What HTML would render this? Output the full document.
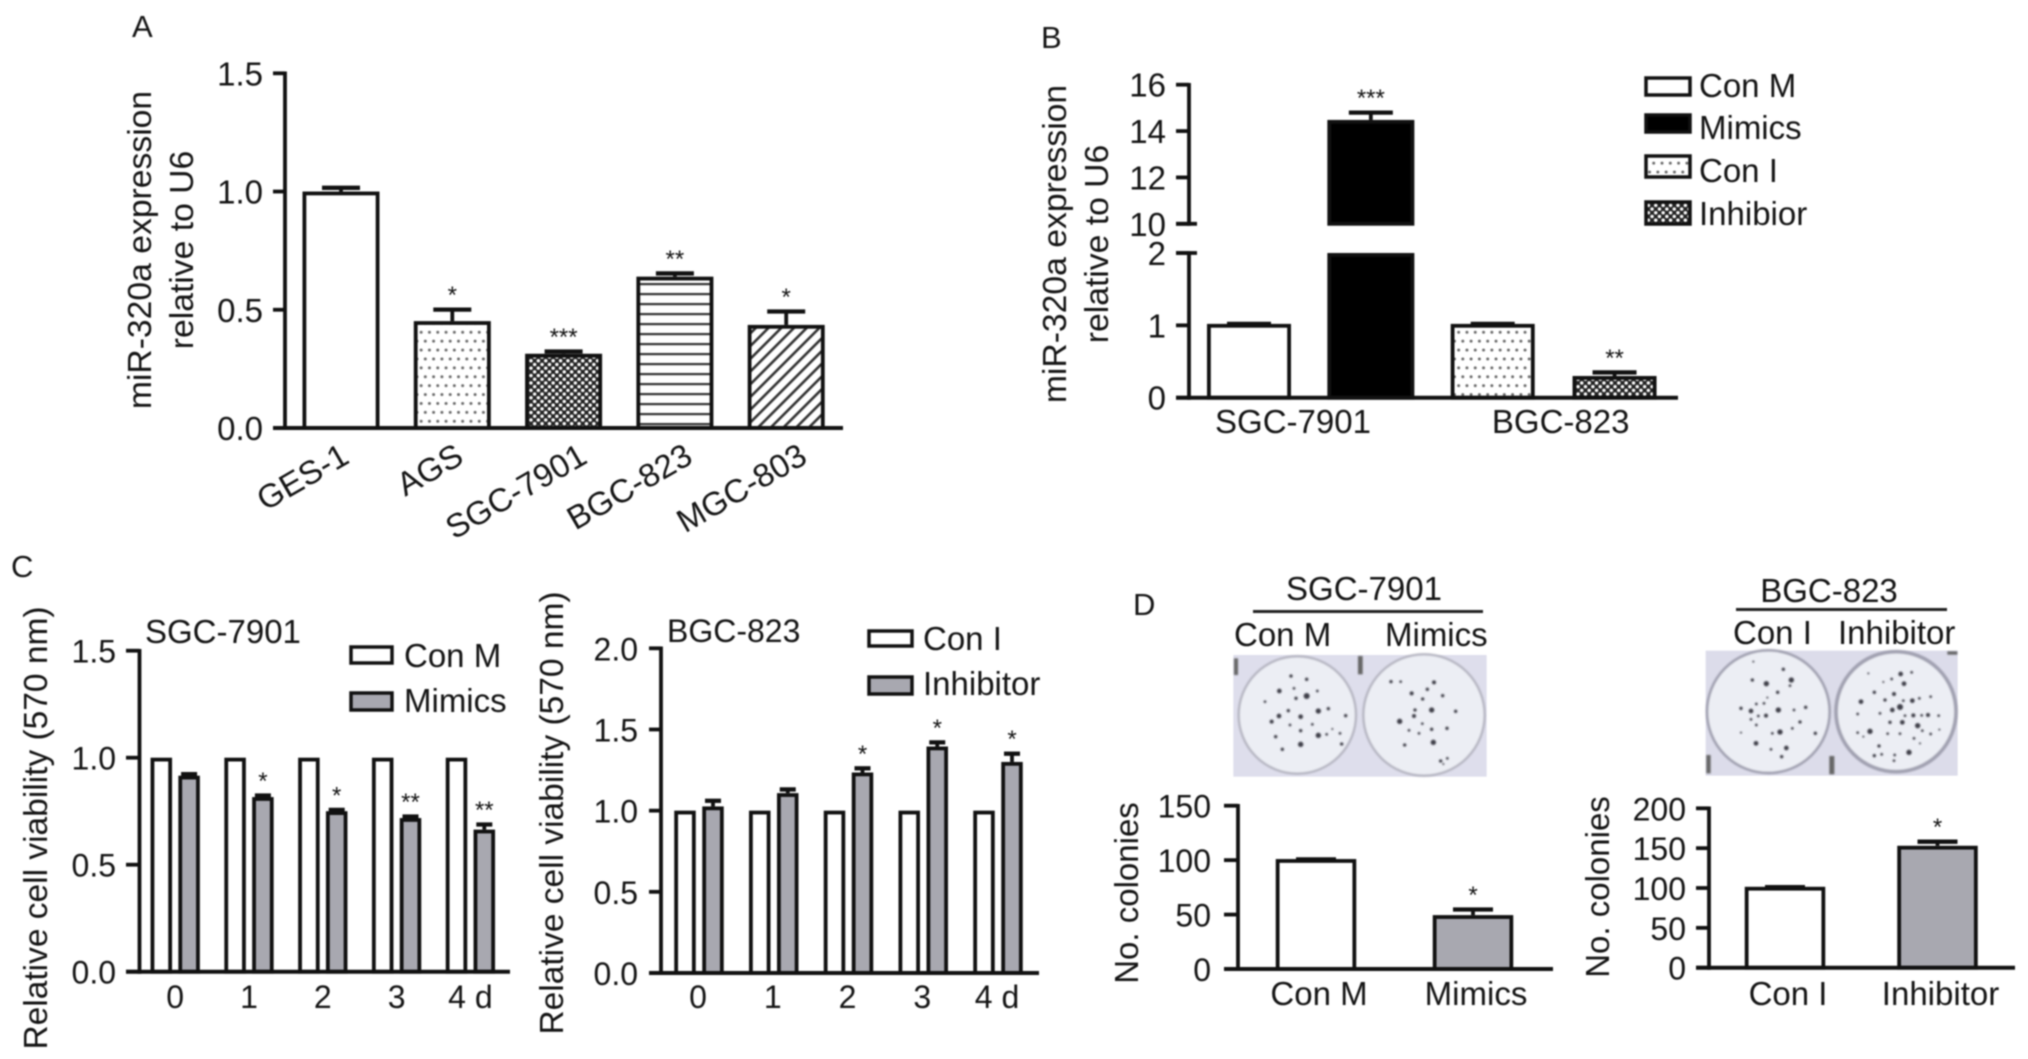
<!DOCTYPE html>
<html lang="en">
<head>
<meta charset="utf-8">
<title>miR-320a expression figure</title>
<style>
html,body{margin:0;padding:0;background:#fff;width:2028px;height:1059px;overflow:hidden}
svg{display:block;filter:blur(0.7px)}
text{font-family:"Liberation Sans",Arial,sans-serif;fill:#141414;font-size:33px}
</style>
</head>
<body>
<svg id="figure" xmlns="http://www.w3.org/2000/svg" width="2028" height="1059" viewBox="0 0 2028 1059">
<defs>
<pattern id="dots" width="8.3" height="17.8" patternUnits="userSpaceOnUse">
<circle cx="2" cy="3" r="1.5" fill="#6a6a6a"/><circle cx="6.15" cy="11.9" r="1.5" fill="#6a6a6a"/>
</pattern>
<pattern id="check" width="7.4" height="7.4" patternUnits="userSpaceOnUse">
<rect width="7.4" height="7.4" fill="#222"/>
<circle cx="1.85" cy="1.85" r="1.75" fill="#fff"/><circle cx="5.55" cy="5.55" r="1.75" fill="#fff"/>
</pattern>
<pattern id="stripes" width="10" height="10" patternUnits="userSpaceOnUse">
<rect y="3" width="10" height="2.2" fill="#333"/>
</pattern>
<pattern id="diag" width="9" height="9" patternUnits="userSpaceOnUse" patternTransform="rotate(45)">
<rect x="0" width="2.6" height="9" fill="#333"/>
</pattern>
<filter id="soft"><feGaussianBlur stdDeviation="2.2"/></filter>
</defs>
<rect width="2028" height="1059" fill="#fff"/>

<text x="132" y="37" style="font-size:31px">A</text>
<text x="1041" y="48" style="font-size:31px">B</text>
<text x="11" y="577" style="font-size:31px">C</text>
<text x="1133" y="615" style="font-size:31px">D</text>

<text transform="translate(151,250) rotate(-90)" text-anchor="middle" style="font-size:33.7px">miR-320a expression</text>
<text transform="translate(193,250) rotate(-90)" text-anchor="middle" style="font-size:33.7px">relative to U6</text>
<text transform="translate(1066,244) rotate(-90)" text-anchor="middle" style="font-size:33.7px">miR-320a expression</text>
<text transform="translate(1108,244) rotate(-90)" text-anchor="middle" style="font-size:33.7px">relative to U6</text>
<text transform="translate(47,828) rotate(-90)" text-anchor="middle" style="font-size:33.5px">Relative cell viability (570 nm)</text>
<text transform="translate(563,813) rotate(-90)" text-anchor="middle" style="font-size:33.5px">Relative cell viability (570 nm)</text>
<text transform="translate(1138,893) rotate(-90)" text-anchor="middle">No. colonies</text>
<text transform="translate(1609,887) rotate(-90)" text-anchor="middle">No. colonies</text>

<text x="145" y="643">SGC-7901</text>
<text x="667" y="642" style="font-size:32px">BGC-823</text>

<g>
<rect x="1646" y="78" width="44" height="17" fill="#fff" stroke="#111" stroke-width="3.5"/>
<text x="1699" y="97">Con M</text>
<rect x="1646" y="115" width="44" height="17" fill="#000" stroke="#111" stroke-width="3.5"/>
<text x="1699" y="139">Mimics</text>
<rect x="1646" y="156" width="44" height="21" fill="url(#dots)" stroke="#111" stroke-width="3.5"/>
<text x="1699" y="182">Con I</text>
<rect x="1646" y="202" width="44" height="22" fill="url(#check)" stroke="#111" stroke-width="3.5"/>
<text x="1699" y="225">Inhibior</text>
</g>

<g>
<rect x="351" y="647" width="41" height="16" fill="#fff" stroke="#111" stroke-width="3.5"/>
<text x="404" y="667">Con M</text>
<rect x="351" y="693" width="41" height="17" fill="#a8a8b0" stroke="#111" stroke-width="3.5"/>
<text x="404" y="712">Mimics</text>
</g>
<g>
<rect x="869" y="631" width="43" height="15" fill="#fff" stroke="#111" stroke-width="3.5"/>
<text x="923" y="650">Con I</text>
<rect x="869" y="677" width="43" height="17" fill="#a8a8b0" stroke="#111" stroke-width="3.5"/>
<text x="923" y="695">Inhibitor</text>
</g>

<text x="1364" y="600" text-anchor="middle">SGC-7901</text>
<rect x="1253" y="610" width="230" height="3" fill="#222"/>
<text x="1234" y="646">Con M</text>
<text x="1385" y="646">Mimics</text>
<text x="1829" y="602" text-anchor="middle">BGC-823</text>
<rect x="1736" y="608" width="211" height="3" fill="#222"/>
<text x="1733" y="644">Con I</text>
<text x="1838" y="644">Inhibitor</text>

<g transform="translate(1210,630) scale(0.33333)">
<rect x="70" y="75" width="760" height="365" fill="#dedeec"/>
<g filter="url(#soft)">
<circle cx="262" cy="255" r="176" fill="#eceef4" stroke="#b4b4c0" stroke-width="7"/>
<circle cx="642" cy="255" r="182" fill="#eceef4" stroke="#b4b4c0" stroke-width="7"/>
<rect x="72" y="85" width="12" height="50" fill="#666"/><rect x="444" y="78" width="14" height="55" fill="#666"/>
</g>
<g fill="#3c3c46" filter="url(#soft)">
<circle cx="243" cy="138" r="5"/><circle cx="290" cy="148" r="5"/><circle cx="208" cy="183" r="7"/><circle cx="290" cy="198" r="9"/><circle cx="252" cy="175" r="4"/><circle cx="322" cy="183" r="4"/><circle cx="165" cy="215" r="4"/><circle cx="235" cy="242" r="5"/><circle cx="207" cy="258" r="7"/><circle cx="185" cy="275" r="6"/><circle cx="272" cy="260" r="7"/><circle cx="325" cy="243" r="8"/><circle cx="355" cy="236" r="5"/><circle cx="407" cy="257" r="5"/><circle cx="240" cy="285" r="4"/><circle cx="272" cy="302" r="5"/><circle cx="307" cy="283" r="4"/><circle cx="197" cy="320" r="5"/><circle cx="325" cy="316" r="8"/><circle cx="350" cy="313" r="4"/><circle cx="367" cy="297" r="3"/><circle cx="390" cy="310" r="4"/><circle cx="272" cy="343" r="8"/><circle cx="217" cy="358" r="5"/><circle cx="395" cy="342" r="5"/><circle cx="258" cy="205" r="5"/>
<circle cx="543" cy="155" r="5"/><circle cx="572" cy="155" r="4"/><circle cx="672" cy="157" r="6"/><circle cx="652" cy="178" r="5"/><circle cx="605" cy="190" r="6"/><circle cx="698" cy="197" r="5"/><circle cx="638" cy="207" r="5"/><circle cx="665" cy="240" r="8"/><circle cx="615" cy="240" r="5"/><circle cx="612" cy="258" r="6"/><circle cx="737" cy="244" r="5"/><circle cx="569" cy="274" r="8"/><circle cx="637" cy="281" r="4"/><circle cx="665" cy="298" r="5"/><circle cx="711" cy="295" r="5"/><circle cx="597" cy="301" r="4"/><circle cx="627" cy="310" r="4"/><circle cx="670" cy="337" r="8"/><circle cx="584" cy="345" r="5"/><circle cx="712" cy="385" r="4"/><circle cx="692" cy="393" r="5"/><circle cx="700" cy="402" r="3"/>
</g>
</g>

<g transform="translate(1690,630) scale(0.33333)">
<rect x="47" y="62" width="756" height="375" fill="#dcdcea"/>
<g filter="url(#soft)">
<circle cx="235" cy="245" r="184" fill="#eceef4" stroke="#a0a0b0" stroke-width="8"/>
<circle cx="618" cy="245" r="180" fill="#eceef4" stroke="#a0a0b0" stroke-width="11"/>
<rect x="49" y="375" width="13" height="55" fill="#666"/><rect x="418" y="378" width="15" height="55" fill="#666"/><rect x="772" y="64" width="30" height="10" fill="#666"/>
</g>
<g fill="#3c3c46" filter="url(#soft)">
<circle cx="190" cy="95" r="3"/><circle cx="280" cy="118" r="5"/><circle cx="187" cy="150" r="5"/><circle cx="229" cy="161" r="8"/><circle cx="304" cy="150" r="8"/><circle cx="300" cy="167" r="4"/><circle cx="263" cy="187" r="5"/><circle cx="232" cy="203" r="3"/><circle cx="199" cy="222" r="4"/><circle cx="222" cy="220" r="4"/><circle cx="153" cy="235" r="5"/><circle cx="183" cy="243" r="7"/><circle cx="265" cy="240" r="8"/><circle cx="312" cy="240" r="4"/><circle cx="347" cy="232" r="5"/><circle cx="228" cy="257" r="6"/><circle cx="205" cy="258" r="4"/><circle cx="183" cy="268" r="4"/><circle cx="330" cy="276" r="5"/><circle cx="199" cy="285" r="4"/><circle cx="307" cy="295" r="4"/><circle cx="270" cy="306" r="8"/><circle cx="247" cy="310" r="4"/><circle cx="376" cy="310" r="5"/><circle cx="198" cy="340" r="7"/><circle cx="289" cy="354" r="7"/><circle cx="243" cy="358" r="4"/><circle cx="275" cy="380" r="5"/><circle cx="153" cy="308" r="3"/>
<circle cx="535" cy="130" r="3"/><circle cx="632" cy="132" r="7"/><circle cx="665" cy="127" r="4"/><circle cx="605" cy="147" r="4"/><circle cx="642" cy="161" r="7"/><circle cx="580" cy="156" r="3"/><circle cx="553" cy="187" r="5"/><circle cx="612" cy="192" r="6"/><circle cx="513" cy="215" r="7"/><circle cx="585" cy="210" r="5"/><circle cx="640" cy="212" r="4"/><circle cx="667" cy="212" r="7"/><circle cx="688" cy="205" r="4"/><circle cx="722" cy="200" r="4"/><circle cx="630" cy="231" r="9"/><circle cx="607" cy="240" r="7"/><circle cx="503" cy="252" r="4"/><circle cx="570" cy="250" r="4"/><circle cx="645" cy="257" r="4"/><circle cx="670" cy="256" r="6"/><circle cx="695" cy="256" r="4"/><circle cx="714" cy="255" r="6"/><circle cx="746" cy="257" r="4"/><circle cx="600" cy="277" r="5"/><circle cx="637" cy="277" r="7"/><circle cx="683" cy="287" r="8"/><circle cx="540" cy="304" r="8"/><circle cx="503" cy="308" r="4"/><circle cx="593" cy="311" r="4"/><circle cx="630" cy="311" r="4"/><circle cx="697" cy="302" r="4"/><circle cx="722" cy="312" r="4"/><circle cx="748" cy="299" r="3"/><circle cx="672" cy="325" r="4"/><circle cx="690" cy="340" r="3"/><circle cx="567" cy="348" r="5"/><circle cx="553" cy="377" r="5"/><circle cx="575" cy="373" r="4"/><circle cx="657" cy="367" r="8"/><circle cx="614" cy="375" r="4"/><circle cx="612" cy="392" r="4"/><circle cx="520" cy="320" r="3"/>
</g>
</g>

<g id="marks"></g>
</svg>

<script>
/* Panel A */
const aCategories = ['GES-1', 'AGS', 'SGC-7901', 'BGC-823', 'MGC-803'];
const aValues = [1.0, 0.452, 0.314, 0.64, 0.436];
const aErrors = [0.022, 0.055, 0.016, 0.02, 0.063];
const aStars = ['', '*', '***', '**', '*'];
const aFills = ['#fff', 'url(#dots)', 'url(#check)', 'url(#stripes)', 'url(#diag)'];
const aTicks = [0, 0.5, 1.0, 1.5];
const aTickLabels = ['0.0', '0.5', '1.0', '1.5'];

/* Panel B (broken axis) */
const bSeries = ['Con M', 'Mimics', 'Con I', 'Inhibior'];
const bValues = [1.02, 14.48, 1.02, 0.30];
const bErrors = [0.02, 0.38, 0.02, 0.07];
const bStars = ['', '***', '', '**'];
const bFills = ['#fff', '#000', 'url(#dots)', 'url(#check)'];
const bGroups = ['SGC-7901', 'BGC-823'];
const bLowerTicks = [0, 1, 2];
const bUpperTicks = [10, 12, 14, 16];

/* Panel C left */
const cDays = ['0', '1', '2', '3', '4 d'];
const cLeftControl = [1, 1, 1, 1, 1];
const cLeftMimics = [0.916, 0.816, 0.75, 0.718, 0.664];
const cLeftErrors = [0.014, 0.014, 0.013, 0.014, 0.031];
const cLeftStars = ['', '*', '*', '**', '**'];
const cLeftTicks = [0, 0.5, 1.0, 1.5];
const cLeftTickLabels = ['0.0', '0.5', '1.0', '1.5'];

/* Panel C right */
const cRightControl = [1, 1, 1, 1, 1];
const cRightInhibitor = [1.026, 1.108, 1.235, 1.395, 1.30];
const cRightErrors = [0.044, 0.032, 0.035, 0.035, 0.06];
const cRightStars = ['', '', '*', '*', '*'];
const cRightTicks = [0, 0.5, 1.0, 1.5, 2.0];
const cRightTickLabels = ['0.0', '0.5', '1.0', '1.5', '2.0'];

/* Panel D */
const dLeftCategories = ['Con M', 'Mimics'];
const dLeftValues = [101, 49.5];
const dLeftErrors = [1, 6.5];
const dLeftStars = ['', '*'];
const dLeftFills = ['#fff', '#a8a8b0'];
const dLeftTicks = [0, 50, 100, 150];
const dRightCategories = ['Con I', 'Inhibitor'];
const dRightValues = [101.5, 153];
const dRightErrors = [1.5, 7];
const dRightStars = ['', '*'];
const dRightFills = ['#fff', '#a8a8b0'];
const dRightTicks = [0, 50, 100, 150, 200];

const NS = 'http://www.w3.org/2000/svg';
const root = document.getElementById('marks');
const SW = 3.8;

function mk(tag, attrs, parent) {
  const n = document.createElementNS(NS, tag);
  for (const k in attrs) n.setAttribute(k, attrs[k]);
  parent.appendChild(n);
  return n;
}
function linear(d0, d1, p0, p1) {
  return v => p0 + (v - d0) * (p1 - p0) / (d1 - d0);
}
function band(first, step) {
  return i => first + step * i;
}
function drawLine(parent, x1, y1, x2, y2, w, name) {
  const l = mk('line', {x1, y1, x2, y2, stroke: '#111', 'stroke-width': w}, parent);
  
  
  return l;
}
function drawLabel(parent, str, x, y, anchor, size, name) {
  const t = mk('text', {x, y, 'text-anchor': anchor}, parent);
  t.style.fontSize = size + 'px';
  t.textContent = str;
  
  
  return t;
}
function drawYAxis(parent, axisX, tickX, labelX, y, ticks, labels, fontSize, name) {
  drawLine(parent, axisX, y(ticks[0]) + 2, axisX, y(ticks[ticks.length - 1]) - 1.75, SW, name + '-line');
  ticks.forEach((v, i) => {
    drawLine(parent, tickX, y(v), axisX, y(v), SW, name + '-tick-' + labels[i]);
    drawLabel(parent, labels[i], labelX, y(v) + 12, 'end', fontSize, name + '-tick-label-' + labels[i]);
  });
}
function drawBar(parent, cx, width, yTop, yBottom, fill, name) {
  const b = mk('rect', {
    x: cx - width / 2 + SW / 2, y: yTop + SW / 2,
    width: width - SW, height: Math.max(0, yBottom - yTop - SW / 2),
    fill: fill, stroke: '#111', 'stroke-width': SW
  }, parent);
  
  
  return b;
}
function drawError(parent, cx, yValue, yCap, capHalf, name) {
  if (yValue - yCap < 0.5) return;
  const g = mk('g', {}, parent);
  
  
  mk('line', {x1: cx, x2: cx, y1: yValue, y2: yCap, stroke: '#111', 'stroke-width': SW}, g);
  mk('line', {x1: cx - capHalf, x2: cx + capHalf, y1: yCap + 1.5, y2: yCap + 1.5, stroke: '#111', 'stroke-width': SW + 0.5}, g);
}
function drawStars(parent, cx, yCap, stars, name) {
  if (!stars) return;
  drawLabel(parent, stars, cx, yCap - 5, 'middle', 24, name);
}

/* ---------- Panel A ---------- */
const gA = mk('g', {}, root);


const yA = linear(0, 1.5, 428, 73.3);
const xA = band(341, 111.3);
const xALabelEnd = band(351, 114.5);
drawYAxis(gA, 285, 273, 263, yA, aTicks, aTickLabels, 33, 'panel-a-y-axis');
aCategories.forEach((c, i) => {
  drawError(gA, xA(i), yA(aValues[i]), yA(aValues[i] + aErrors[i]), 19, 'error-bar-' + c);
  drawBar(gA, xA(i), 77, yA(aValues[i]), yA(0), aFills[i], 'bar-' + c);
  drawStars(gA, xA(i), yA(aValues[i] + aErrors[i]), aStars[i], 'significance-' + c);
  const t = drawLabel(gA, c, 0, 0, 'end', 33, 'x-label-' + c);
  const nudge = c === 'SGC-7901' ? 9 : 0;
  t.setAttribute('transform', 'translate(' + (xALabelEnd(i) + nudge) + ',462) rotate(-30)');
});
drawLine(gA, 273, 428, 843, 428, 4, 'panel-a-x-axis');

/* ---------- Panel B ---------- */
const gB = mk('g', {}, root);


const yBLow = linear(0, 2, 397.7, 253);
const yBHigh = linear(10, 16, 223.8, 84.7);
const xB = band(1249, 121.85);
drawYAxis(gB, 1189, 1176, 1166, yBLow, bLowerTicks, bLowerTicks.map(String), 33, 'panel-b-y-axis-lower');
drawYAxis(gB, 1189, 1176, 1166, yBHigh, bUpperTicks, bUpperTicks.map(String), 33, 'panel-b-y-axis-upper');
drawLine(gB, 1176, yBLow(2), 1197, yBLow(2), SW, 'panel-b-break-tick-lower');
drawLine(gB, 1176, yBHigh(10), 1197, yBHigh(10), SW, 'panel-b-break-tick-upper');
bSeries.forEach((s, i) => {
  const v = bValues[i];
  const top = v > 2 ? yBHigh(v) : yBLow(v);
  const cap = v > 2 ? yBHigh(v + bErrors[i]) : yBLow(v + bErrors[i]);
  drawError(gB, xB(i), top, cap, 22, 'error-bar-' + s);
  if (v > 2) {
    drawBar(gB, xB(i), 87, yBLow(2), yBLow(0), bFills[i], 'bar-' + s + '-lower');
    drawBar(gB, xB(i), 87, top, yBHigh(10), bFills[i], 'bar-' + s + '-upper');
  } else {
    drawBar(gB, xB(i), 84, top, yBLow(0), bFills[i], 'bar-' + s);
  }
  drawStars(gB, xB(i), cap, bStars[i], 'significance-' + s);
});
drawLine(gB, 1176, 397.7, 1678, 397.7, 4, 'panel-b-x-axis');
bGroups.forEach((g, i) => {
  drawLabel(gB, g, xB(i * 2) + 44 + i * 24, 433, 'middle', 33, 'group-label-' + g);
});

/* ---------- Panel C ---------- */
function drawPaired(parent, key, xGroup, offset, y, control, treated, errors, stars) {
  cDays.forEach((d, i) => {
    drawBar(parent, xGroup(i) - offset, 21.5, y(control[i]), y(0), '#fff', key + '-control-bar-' + i);
    drawError(parent, xGroup(i) + offset, y(treated[i]), y(treated[i] + errors[i]), 8, key + '-error-bar-' + i);
    drawBar(parent, xGroup(i) + offset, 21.5, y(treated[i]), y(0), '#a8a8b0', key + '-treated-bar-' + i);
    drawStars(parent, xGroup(i) + offset, y(treated[i] + errors[i]), stars[i], key + '-significance-' + i);
  });
}
const gC1 = mk('g', {}, root);


const yC1 = linear(0, 1.5, 971.7, 650.7);
const xC1 = band(175.2, 73.8);
drawYAxis(gC1, 139.5, 126, 116, yC1, cLeftTicks, cLeftTickLabels, 32, 'panel-c-left-y-axis');
drawPaired(gC1, 'panel-c-left', xC1, 13.9, yC1, cLeftControl, cLeftMimics, cLeftErrors, cLeftStars);
drawLine(gC1, 126, 971.7, 510, 971.7, 4, 'panel-c-left-x-axis');
cDays.forEach((d, i) => {
  drawLabel(gC1, d, xC1(i), 1008, 'middle', 32, 'panel-c-left-x-label-' + i);
});

const gC2 = mk('g', {}, root);


const yC2 = linear(0, 2, 973, 648.3);
const xC2 = band(699, 74.75);
drawYAxis(gC2, 661, 649, 638, yC2, cRightTicks, cRightTickLabels, 32, 'panel-c-right-y-axis');
drawPaired(gC2, 'panel-c-right', xC2, 14, yC2, cRightControl, cRightInhibitor, cRightErrors, cRightStars);
drawLine(gC2, 649, 973, 1039, 973, 4, 'panel-c-right-x-axis');
cDays.forEach((d, i) => {
  drawLabel(gC2, d, xC2(i) - 1, 1008, 'middle', 32, 'panel-c-right-x-label-' + i);
});

/* ---------- Panel D ---------- */
function drawSimple(parent, key, xs, y, cats, vals, errs, stars, fills) {
  cats.forEach((c, i) => {
    drawError(parent, xs(i), y(vals[i]), y(vals[i] + errs[i]), 20, key + '-error-bar-' + c);
    drawBar(parent, xs(i), 80.5, y(vals[i]), y(0), fills[i], key + '-bar-' + c);
    drawStars(parent, xs(i), y(vals[i] + errs[i]), stars[i], key + '-significance-' + c);
    drawLabel(parent, c, xs(i) + 3, 1005, 'middle', 33, key + '-x-label-' + c);
  });
}
const gD1 = mk('g', {}, root);


const yD1 = linear(0, 150, 969, 805.7);
const xD1 = band(1316, 157);
drawYAxis(gD1, 1238, 1224, 1211, yD1, dLeftTicks, dLeftTicks.map(String), 32, 'panel-d-left-y-axis');
drawSimple(gD1, 'panel-d-left', xD1, yD1, dLeftCategories, dLeftValues, dLeftErrors, dLeftStars, dLeftFills);
drawLine(gD1, 1224, 969, 1553, 969, 4, 'panel-d-left-x-axis');

const gD2 = mk('g', {}, root);


const yD2 = linear(0, 200, 967.7, 808.3);
const xD2 = band(1785, 152.5);
drawYAxis(gD2, 1709, 1696, 1686, yD2, dRightTicks, dRightTicks.map(String), 32, 'panel-d-right-y-axis');
drawSimple(gD2, 'panel-d-right', xD2, yD2, dRightCategories, dRightValues, dRightErrors, dRightStars, dRightFills);
drawLine(gD2, 1696, 967.7, 2015, 967.7, 4, 'panel-d-right-x-axis');
</script>
</body>
</html>
